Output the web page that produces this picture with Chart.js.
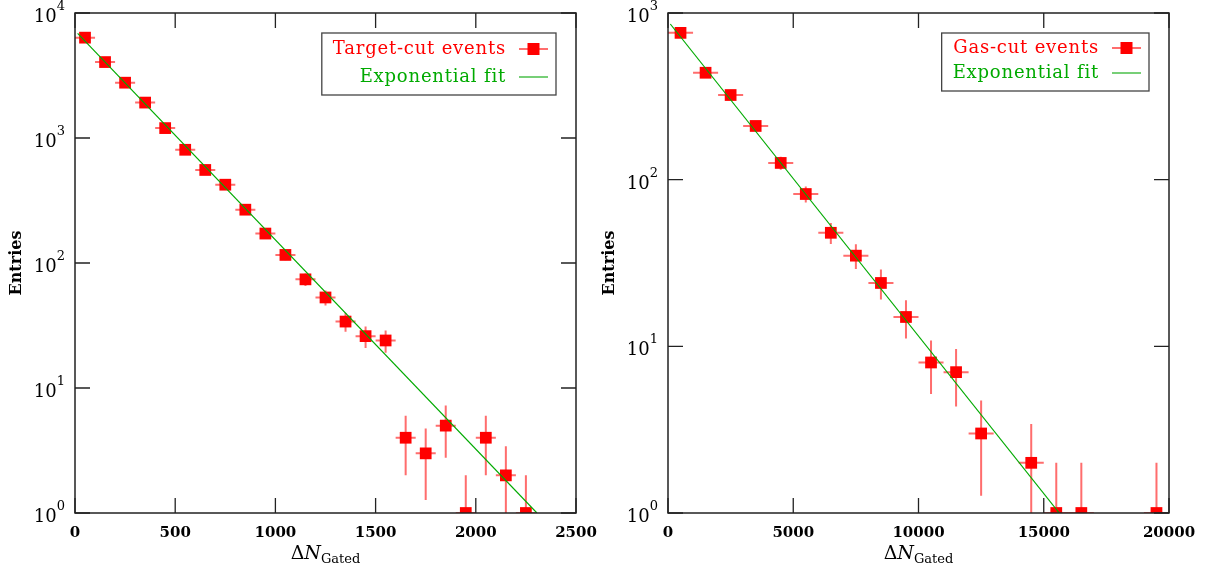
<!DOCTYPE html>
<html>
<head>
<meta charset="utf-8">
<script src="https://cdn.jsdelivr.net/npm/chart.js@4.4.1/dist/chart.umd.min.js"></script>
<style>
  body { margin: 0; background: #fff; }
  #wrap { position: relative; width: 1220px; height: 572px; }
  .panel { position: absolute; top: 0; width: 610px; height: 572px; }
</style>
</head>
<body>
<div id="wrap">
  <div class="panel" style="left:0"><canvas id="left" width="600" height="572"></canvas></div>
  <div class="panel" style="left:600px"><canvas id="right" width="620" height="572"></canvas></div>
</div>
<script>
// left panel: target-cut events, 100 wide bins
const targetX = [50, 150, 250, 350, 450, 550, 650, 750, 850, 950, 1050, 1150, 1250, 1350, 1450, 1550, 1650, 1750, 1850, 1950, 2050, 2150, 2250];
const targetCounts = [6350, 4050, 2770, 1920, 1200, 805, 555, 423, 267, 172, 116, 74, 53, 34, 26, 24, 4, 3, 5, 1, 4, 2, 1];
const targetFitX = [13, 2305];
const targetFitY = [6880, 1];
const targetXTicks = [0, 500, 1000, 1500, 2000, 2500];
const targetYExp = [0, 1, 2, 3, 4];

// right panel: gas-cut events, 1000 wide bins
const gasX = [500, 1500, 2500, 3500, 4500, 5500, 6500, 7500, 8500, 9500, 10500, 11500, 12500, 14500, 15500, 16500, 19500];
const gasCounts = [760, 438, 322, 210, 126, 82, 48, 35, 24, 15, 8, 7, 3, 2, 1, 1, 1];
const gasFitX = [92, 15620];
const gasFitY = [859, 1];
const gasXTicks = [0, 5000, 10000, 15000, 20000];
const gasYExp = [0, 1, 2, 3];

const serif = "'DejaVu Serif', serif";
const red = '#ff0000';
const errRed = 'rgba(255,60,60,0.75)';
const green = '#00aa00';

const histPlugin = {
  id: 'hist',
  beforeDatasetsDraw(chart, args, o) {
    const ctx = chart.ctx;
    const a = chart.chartArea;
    const x = chart.scales.x, y = chart.scales.y;
    ctx.save();
    ctx.beginPath();
    ctx.rect(a.left, a.top, a.right - a.left, a.bottom - a.top);
    ctx.clip();
    ctx.strokeStyle = errRed;
    ctx.lineWidth = 2;
    o.xs.forEach((xv, i) => {
      let n = o.counts[i];
      let err = Math.sqrt(n);
      let px = x.getPixelForValue(xv);
      let py = y.getPixelForValue(n);
      let top = y.getPixelForValue(n + err);
      let bot = n - err > 0 ? y.getPixelForValue(n - err) : a.bottom + 10;
      ctx.beginPath();
      ctx.moveTo(px, top);
      ctx.lineTo(px, bot);
      ctx.moveTo(x.getPixelForValue(xv - o.half), py);
      ctx.lineTo(x.getPixelForValue(xv + o.half), py);
      ctx.stroke();
    });
    ctx.restore();
  },
  afterDraw(chart, args, o) {
    const ctx = chart.ctx;
    const a = chart.chartArea;
    const x = chart.scales.x, y = chart.scales.y;
    ctx.save();

    // frame and inward ticks
    ctx.strokeStyle = '#222';
    ctx.lineWidth = 1.5;
    ctx.strokeRect(a.left, a.top, a.right - a.left, a.bottom - a.top);
    ctx.lineWidth = 1.3;
    ctx.beginPath();
    o.xTicks.forEach(v => {
      let px = x.getPixelForValue(v);
      ctx.moveTo(px, a.bottom); ctx.lineTo(px, a.bottom - 15);
      ctx.moveTo(px, a.top); ctx.lineTo(px, a.top + 15);
    });
    o.yExp.forEach(e => {
      let py = y.getPixelForValue(Math.pow(10, e));
      ctx.moveTo(a.left, py); ctx.lineTo(a.left + 15, py);
      ctx.moveTo(a.right, py); ctx.lineTo(a.right - 15, py);
    });
    ctx.stroke();

    // x tick labels
    ctx.fillStyle = '#000';
    ctx.font = 'bold 15px ' + serif;
    ctx.textAlign = 'center';
    ctx.textBaseline = 'alphabetic';
    o.xTicks.forEach(v => {
      ctx.fillText(String(v), x.getPixelForValue(v), a.bottom + 24);
    });

    // y tick labels, 10^n
    o.yExp.forEach(e => {
      let py = y.getPixelForValue(Math.pow(10, e));
      ctx.font = '13px ' + serif;
      let ew = ctx.measureText(String(e)).width;
      let right = a.left - 10;
      ctx.textAlign = 'right';
      ctx.fillText(String(e), right, py - 3);
      ctx.font = '18px ' + serif;
      ctx.fillText('10', right - ew, py + 9);
    });

    // y title
    ctx.save();
    ctx.translate(o.yTitleX, (a.top + a.bottom) / 2);
    ctx.rotate(-Math.PI / 2);
    ctx.font = 'bold 16px ' + serif;
    ctx.textAlign = 'center';
    ctx.textBaseline = 'middle';
    ctx.fillText('Entries', 0, 0);
    ctx.restore();

    // x title: ΔN_Gated
    let cx = (a.left + a.right) / 2;
    ctx.textAlign = 'left';
    ctx.font = '19px ' + serif;
    let w1 = ctx.measureText('\u0394').width;
    ctx.font = 'italic 19px ' + serif;
    let w2 = ctx.measureText('N').width;
    ctx.font = '13px ' + serif;
    let w3 = ctx.measureText('Gated').width;
    let sx = cx - (w1 + w2 + w3) / 2;
    ctx.font = '19px ' + serif;
    ctx.fillText('\u0394', sx, a.bottom + 46);
    ctx.font = 'italic 19px ' + serif;
    ctx.fillText('N', sx + w1, a.bottom + 46);
    ctx.font = '13px ' + serif;
    ctx.fillText('Gated', sx + w1 + w2, a.bottom + 50);

    // legend
    ctx.font = '18px ' + serif;
    ctx.letterSpacing = '0.8px';
    let tw = Math.max(ctx.measureText(o.label).width, ctx.measureText('Exponential fit').width);
    let bRight = a.right - 20;
    let bTop = a.top + 20;
    let textRight = bRight - 50;
    let bLeft = textRight - tw - 11;
    ctx.fillStyle = '#fff';
    ctx.fillRect(bLeft, bTop, bRight - bLeft, o.legendH);
    ctx.strokeStyle = '#444';
    ctx.lineWidth = 1.3;
    ctx.strokeRect(bLeft, bTop, bRight - bLeft, o.legendH);
    ctx.textAlign = 'right';
    ctx.textBaseline = 'middle';
    let r1 = bTop + o.row1, r2 = bTop + o.row2;
    ctx.fillStyle = red;
    ctx.fillText(o.label, textRight, r1);
    ctx.fillStyle = green;
    ctx.fillText('Exponential fit', textRight, r2);
    ctx.letterSpacing = '0px';
    ctx.lineWidth = 2;
    ctx.strokeStyle = errRed;
    ctx.beginPath(); ctx.moveTo(bRight - 37, r1); ctx.lineTo(bRight - 8, r1); ctx.stroke();
    ctx.fillStyle = red;
    ctx.fillRect(bRight - 22.5 - 6, r1 - 6, 12, 12);
    ctx.strokeStyle = '#55c455';
    ctx.lineWidth = 1.6;
    ctx.beginPath(); ctx.moveTo(bRight - 37, r2); ctx.lineTo(bRight - 8, r2); ctx.stroke();

    ctx.restore();
  }
};

function makeChart(id, cfg) {
  let pts = cfg.xs.map((v, i) => ({ x: v, y: cfg.counts[i] }));
  let fit = cfg.fitX.map((v, i) => ({ x: v, y: cfg.fitY[i] }));
  return new Chart(document.getElementById(id), {
    type: 'scatter',
    data: {
      datasets: [
        { data: fit, showLine: true, borderColor: green, borderWidth: 1.2, pointRadius: 0, order: 0, clip: 0 },
        { data: pts, pointStyle: 'rect', pointRadius: 8.3, backgroundColor: red, borderWidth: 0, pointBorderWidth: 0, order: 1, clip: 0 }
      ]
    },
    options: {
      responsive: false,
      animation: false,
      events: [],
      layout: { autoPadding: false, padding: { top: 13, right: cfg.padRight, left: 0, bottom: 0 } },
      plugins: {
        legend: { display: false },
        tooltip: { enabled: false },
        hist: {
          xs: cfg.xs, counts: cfg.counts, half: cfg.half,
          xTicks: cfg.xTicks, yExp: cfg.yExp, yTitleX: cfg.yTitleX,
          label: cfg.label, legendH: cfg.legendH, row1: cfg.row1, row2: cfg.row2
        }
      },
      scales: {
        x: {
          type: 'linear', min: cfg.xTicks[0], max: cfg.xTicks[cfg.xTicks.length - 1],
          grid: { display: false }, border: { display: false }, ticks: { display: false },
          afterFit(s) { s.height = 59; }
        },
        y: {
          type: 'logarithmic', min: 1, max: Math.pow(10, cfg.yExp[cfg.yExp.length - 1]),
          grid: { display: false }, border: { display: false }, ticks: { display: false },
          afterFit(s) { s.width = cfg.axisW; }
        }
      }
    },
    plugins: [histPlugin]
  });
}

makeChart('left', {
  xs: targetX, counts: targetCounts, fitX: targetFitX, fitY: targetFitY, half: 50,
  xTicks: targetXTicks, yExp: targetYExp, axisW: 75, padRight: 24, yTitleX: 17,
  label: 'Target-cut events', legendH: 62, row1: 16, row2: 44
});
makeChart('right', {
  xs: gasX, counts: gasCounts, fitX: gasFitX, fitY: gasFitY, half: 500,
  xTicks: gasXTicks, yExp: gasYExp, axisW: 68, padRight: 51, yTitleX: 10,
  label: 'Gas-cut events', legendH: 58, row1: 15, row2: 40
});
</script>
</body>
</html>
